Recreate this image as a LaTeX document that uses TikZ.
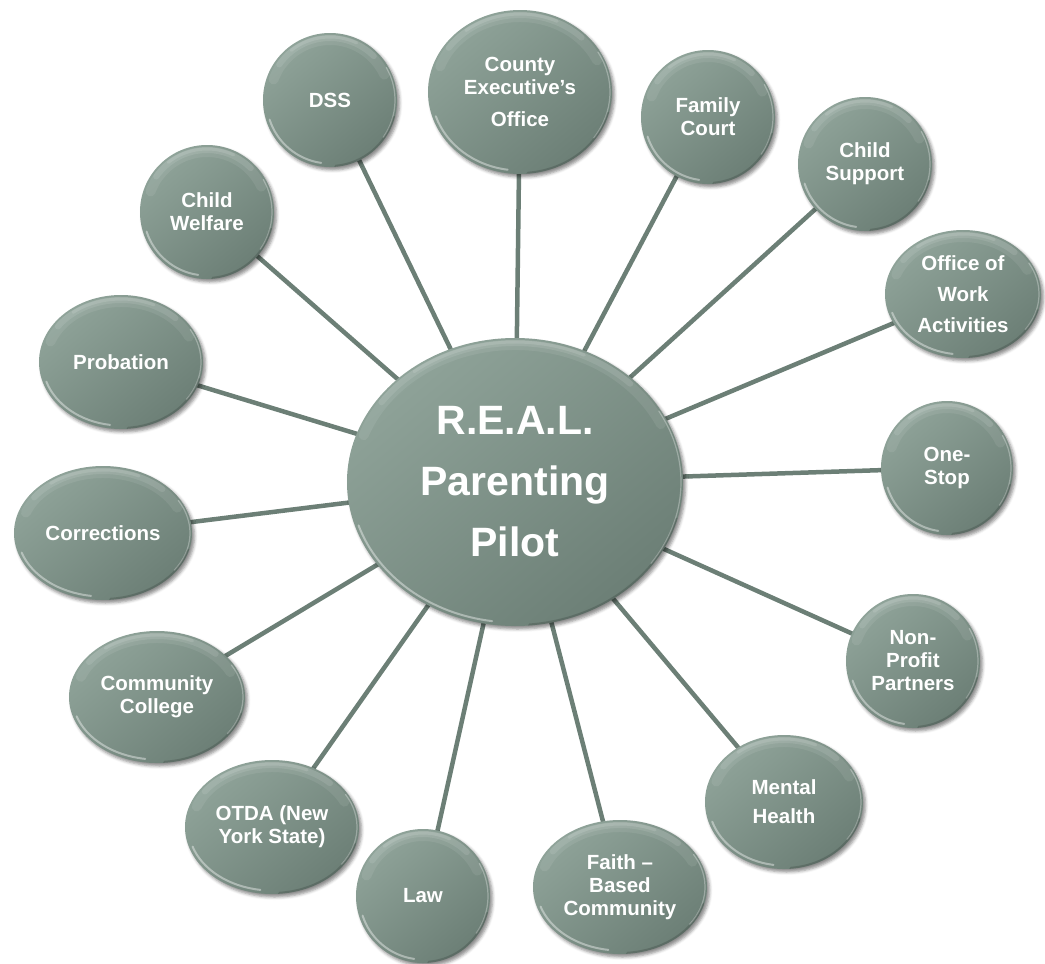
\documentclass[tikz,border=0pt]{standalone}
\usepackage{fontspec}
\setmainfont{Liberation Sans}
\usetikzlibrary{shapes.geometric,backgrounds,shadows.blur}

\definecolor{bubtop}{RGB}{143,163,153}
\definecolor{bubbot}{RGB}{108,127,118}
\definecolor{spokecol}{RGB}{108,127,118}

\newcommand\glossarc[6]{%
  \draw[#1, opacity=#2, line width=#3, line cap=round]
    (path picture bounding box.center) ++(#5:{\bubrx-#4} and {\bubry-#4})
    arc[start angle=#5, end angle=#6, x radius={\bubrx-#4}, y radius={\bubry-#4}];}

\tikzset{
  bubble/.style={
    ellipse, inner sep=0pt, align=center, text=white,
    font=\bfseries\fontsize{20.5}{23}\selectfont,
    top color=bubtop, bottom color=bubbot, shading angle=40,
    blur shadow={shadow xshift=2.5pt, shadow yshift=-3pt, shadow blur radius=3pt, shadow opacity=45},
    path picture={
      \pgfpointdiff{\pgfpointanchor{path picture bounding box}{center}}{\pgfpointanchor{path picture bounding box}{north east}}%
      \pgfgetlastxy{\bubrx}{\bubry}%
      \glossarc{white}{.08}{10pt}{7pt}{160}{25}
      \glossarc{white}{.10}{6pt}{5pt}{145}{45}
      \glossarc{white}{.12}{3pt}{4pt}{128}{65}
      \glossarc{white}{.40}{2pt}{3.5pt}{198}{262}
      \glossarc{white}{.30}{1.2pt}{2pt}{-35}{30}
      \glossarc{black}{.15}{3pt}{0.5pt}{275}{345}
    }
  },
  hubfont/.style={font=\bfseries\fontsize{41}{61}\selectfont},
  spoke/.style={draw=spokecol, line width=4.5pt},
}

\begin{document}
\begin{tikzpicture}[x=1pt,y=1pt]
\useasboundingbox (0,-964) rectangle (1045,0);

\node[bubble, hubfont, minimum width=336pt, minimum height=288pt] (hub) at (515,-482) {R.E.A.L.\\Parenting\\Pilot};

\node[bubble, minimum width=134pt, minimum height=134pt] (dss)  at (330,-100) {DSS};
\node[bubble, minimum width=184pt, minimum height=164pt] (ce)   at (520,-92)  {County\\Executive’s\\[9pt]Office};
\node[bubble, minimum width=134pt, minimum height=134pt] (fc)   at (708,-117) {Family\\Court};
\node[bubble, minimum width=134pt, minimum height=134pt] (cs)   at (865,-164) {Child\\Support};
\node[bubble, minimum width=156pt, minimum height=128pt] (ow)   at (963,-294) {Office of\\[8pt]Work\\[8pt]Activities};
\node[bubble, minimum width=132pt, minimum height=134pt] (one)  at (947,-468) {One-\\Stop};
\node[bubble, minimum width=134pt, minimum height=134pt] (np)   at (913,-661) {Non-\\Profit\\Partners};
\node[bubble, minimum width=158pt, minimum height=134pt] (mh)   at (784,-802) {Mental\\[6pt]Health};
\node[bubble, minimum width=174pt, minimum height=134pt] (fb)   at (620,-887) {Faith –\\Based\\Community};
\node[bubble, minimum width=134pt, minimum height=134pt] (law)  at (423,-896) {Law};
\node[bubble, minimum width=174pt, minimum height=134pt] (otda) at (272,-827) {OTDA (New\\York State)};
\node[bubble, minimum width=176pt, minimum height=132pt] (cc)   at (157,-697) {Community\\College};
\node[bubble, minimum width=178pt, minimum height=134pt] (corr) at (103,-533) {Corrections};
\node[bubble, minimum width=164pt, minimum height=134pt] (prob) at (121,-362) {Probation};
\node[bubble, minimum width=134pt, minimum height=134pt] (cw)   at (207,-212) {Child\\Welfare};

\begin{scope}[on background layer]
\foreach \n in {dss,ce,fc,cs,ow,one,np,mh,fb,law,otda,cc,corr,prob,cw}
  \draw[spoke] (hub.center) -- (\n.center);
\end{scope}
\end{tikzpicture}
\end{document}
